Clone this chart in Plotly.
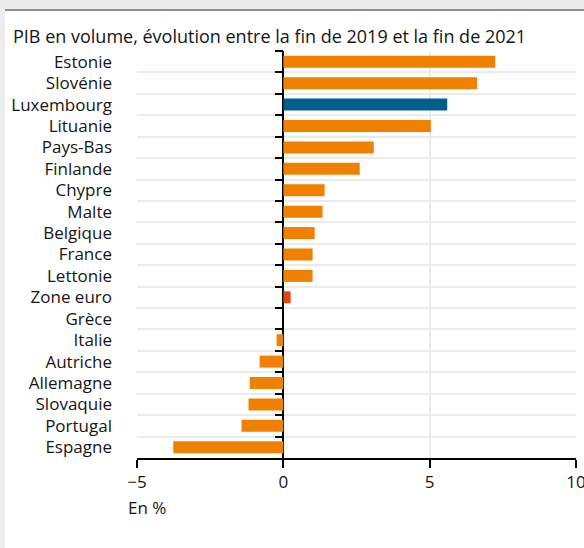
import plotly.graph_objects as go

countries = ["Estonie", "Slovénie", "Luxembourg", "Lituanie", "Pays-Bas", "Finlande",
             "Chypre", "Malte", "Belgique", "France", "Lettonie", "Zone euro", "Grèce",
             "Italie", "Autriche", "Allemagne", "Slovaquie", "Portugal", "Espagne"]
values = [7.24, 6.62, 5.60, 5.04, 3.09, 2.61, 1.41, 1.34, 1.07, 1.00, 1.00, 0.25, 0.0,
          -0.23, -0.81, -1.15, -1.19, -1.43, -3.76]
ORANGE = "#F08000"
BLUE = "#005F8B"
RED = "#DA4A10"
colors = [BLUE if c == "Luxembourg" else RED if c == "Zone euro" else ORANGE for c in countries]

x_ticks = [-5, 0, 5, 10]
x_range = [-5, 10]
title = "PIB en volume, évolution entre la fin de 2019 et la fin de 2021"
x_label = "En %"

FONT = "Open Sans"
TXT = "#151515"

W, H = 584, 548
ML, MR, MT, MB = 137, 8, 51, 90
PW, PH = W - ML - MR, H - MT - MB

def px_x(p):
    return (p - ML) / PW

def px_y(p):
    return (H - MB - p) / PH

fig = go.Figure()
fig.add_trace(go.Bar(x=values, y=countries, orientation="h", marker_color=colors,
                     marker_line_width=0, hoverinfo="x+y", yaxis="y"))
fig.add_trace(go.Scatter(x=[0] * len(countries), y=countries, mode="markers",
                         marker=dict(opacity=0), hoverinfo="skip", yaxis="y2",
                         showlegend=False))

rng = [len(countries) - 0.5, -0.5]
zero_pos = (0 - x_range[0]) / (x_range[1] - x_range[0])

fig.update_layout(
    width=W, height=H,
    margin=dict(l=ML, r=MR, t=MT, b=MB, autoexpand=False),
    paper_bgcolor="#ececec",
    plot_bgcolor="white",
    showlegend=False,
    bargap=0.44,
    font=dict(family=FONT, size=17, color=TXT),
    xaxis=dict(range=x_range, tickvals=x_ticks, showgrid=True, gridcolor="#ebebeb",
               gridwidth=1.5, zeroline=True, zerolinecolor="black", zerolinewidth=2,
               showline=True, linecolor="black", linewidth=2, ticks="outside",
               ticklen=8, tickwidth=2, tickcolor="black", ticklabeloverflow="allow",
               automargin=False,
               tickfont=dict(family=FONT, size=17, color=TXT), fixedrange=True),
    yaxis=dict(type="category", categoryorder="array", categoryarray=countries,
               range=rng, tickson="boundaries", showgrid=True, gridcolor="#ebebeb",
               gridwidth=1.5, ticks="", ticklabelstandoff=24, automargin=False,
               tickfont=dict(family=FONT, size=17, color=TXT), showline=False,
               zeroline=False, fixedrange=True),
    yaxis2=dict(type="category", categoryorder="array", categoryarray=countries,
                range=rng, overlaying="y", anchor="free", position=zero_pos,
                side="left", tickson="boundaries", ticks="outside", ticklen=8,
                tickwidth=2, tickcolor="black", showticklabels=False, showgrid=False,
                showline=False, zeroline=False, fixedrange=True, automargin=False),
    shapes=[
        dict(type="rect", xref="paper", yref="paper", x0=px_x(5), x1=px_x(W + 5),
             y0=px_y(H + 5), y1=px_y(10), fillcolor="white", line_width=0, layer="below"),
        dict(type="line", xref="paper", yref="paper", x0=px_x(5), x1=px_x(W + 5),
             y0=px_y(10), y1=px_y(10), line=dict(color="#8c8c8c", width=2)),
    ],
    annotations=[
        dict(text=title, xref="paper", yref="paper", x=px_x(11), y=px_y(36),
             xanchor="left", yanchor="middle", showarrow=False,
             font=dict(family=FONT, size=18, color=TXT)),
        dict(text=x_label, xref="paper", yref="paper", x=px_x(126), y=px_y(507),
             xanchor="left", yanchor="middle", showarrow=False,
             font=dict(family=FONT, size=17, color=TXT)),
    ],
)

fig.write_html("out.html", config={"displayModeBar": False},
               post_script="document.body.style.margin='0';document.body.style.overflow='hidden';")
